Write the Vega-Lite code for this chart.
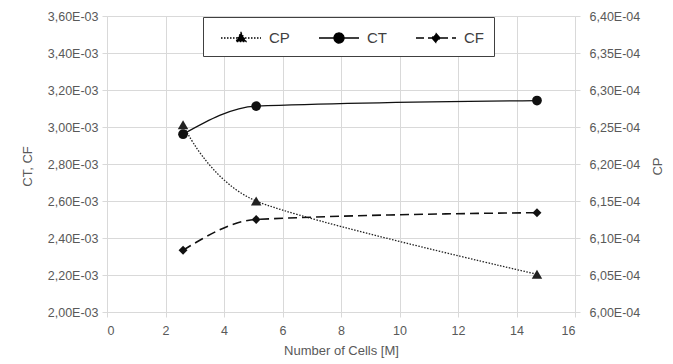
{
  "$schema": "https://vega.github.io/schema/vega-lite/v6.json",
  "width": 468,
  "height": 296,
  "autosize": {"type": "none"},
  "padding": {"left": 107, "top": 16, "right": 98, "bottom": 52},
  "background": "white",
  "config": {
    "view": {"stroke": null},
    "font": "Liberation Sans",
    "axis": {
      "labelFont": "Liberation Sans",
      "labelFontSize": 12.5,
      "labelColor": "#595959",
      "titleFont": "Liberation Sans",
      "titleFontSize": 13,
      "titleFontWeight": "normal",
      "titleColor": "#595959",
      "gridColor": "#d9d9d9",
      "domainColor": "#d9d9d9",
      "tickColor": "#d9d9d9",
      "tickSize": 5
    }
  },
  "data": {
    "values": [
      {"cells": 2.6, "series": "CP", "value": 0.0006253},
      {"cells": 5.1, "series": "CP", "value": 0.000615},
      {"cells": 14.7, "series": "CP", "value": 0.0006051},
      {"cells": 2.6, "series": "CT", "value": 0.002961},
      {"cells": 5.1, "series": "CT", "value": 0.003113},
      {"cells": 14.7, "series": "CT", "value": 0.003143},
      {"cells": 2.6, "series": "CF", "value": 0.002334},
      {"cells": 5.1, "series": "CF", "value": 0.0025},
      {"cells": 14.7, "series": "CF", "value": 0.002537}
    ]
  },
  "encoding": {
    "x": {
      "field": "cells",
      "type": "quantitative",
      "scale": {"domain": [0, 16], "nice": false},
      "axis": {
        "values": [0, 2, 4, 6, 8, 10, 12, 14, 16],
        "title": "Number of Cells [M]",
        "grid": true,
        "labelPadding": 7,
        "titlePadding": 8
      }
    }
  },
  "layer": [
    {
      "encoding": {
        "y": {
          "field": "value",
          "type": "quantitative",
          "scale": {"domain": [0.0006, 0.00064], "nice": false, "zero": false},
          "axis": {
            "orient": "right",
            "values": [0.0006, 0.000605, 0.00061, 0.000615, 0.00062, 0.000625, 0.00063, 0.000635, 0.00064],
            "labelExpr": "replace(format(datum.value*10000, '.2f'), '.', ',') + 'E-04'",
            "title": "CP",
            "titleAngle": -90,
            "titleX": 82,
            "titleY": 150,
            "titleAlign": "center",
            "titleBaseline": "middle",
            "grid": false,
            "labelPadding": 9
          }
        }
      },
      "layer": [
        {
          "transform": [{"filter": "datum.series === 'CP'"}],
          "mark": {"type": "line", "interpolate": "cardinal", "tension": 0.2, "color": "#222222", "strokeWidth": 1.3, "strokeDash": [1.5, 1.5]}
        },
        {
          "transform": [{"filter": "datum.series === 'CP'"}],
          "mark": {"type": "point", "shape": "triangle-up", "filled": true, "color": "#222222", "size": 110, "opacity": 1}
        }
      ]
    },
    {
      "encoding": {
        "y": {
          "field": "value",
          "type": "quantitative",
          "scale": {"domain": [0.002, 0.0036], "nice": false, "zero": false},
          "axis": {
            "orient": "left",
            "values": [0.002, 0.0022, 0.0024, 0.0026, 0.0028, 0.003, 0.0032, 0.0034, 0.0036],
            "labelExpr": "replace(format(datum.value*1000, '.2f'), '.', ',') + 'E-03'",
            "title": "CT, CF",
            "titleAngle": -90,
            "titleX": -80,
            "titleY": 150,
            "titleAlign": "center",
            "titleBaseline": "middle",
            "grid": true,
            "labelPadding": 4
          }
        }
      },
      "layer": [
        {
          "transform": [{"filter": "datum.series === 'CT'"}],
          "mark": {"type": "line", "interpolate": "monotone", "color": "#111111", "strokeWidth": 1.3}
        },
        {
          "transform": [{"filter": "datum.series === 'CF'"}],
          "mark": {"type": "line", "interpolate": "monotone", "color": "#111111", "strokeWidth": 1.6, "strokeDash": [9, 5]}
        },
        {
          "transform": [{"filter": "datum.series === 'CT'"}],
          "mark": {"type": "point", "shape": "circle", "filled": true, "color": "#111111", "size": 95, "opacity": 1}
        },
        {
          "transform": [{"filter": "datum.series === 'CF'"}],
          "mark": {"type": "point", "shape": "diamond", "filled": true, "color": "#111111", "size": 80, "opacity": 1}
        }
      ]
    },
    {
      "mark": {"type": "point", "filled": true, "opacity": 0, "color": "black"},
      "encoding": {
        "shape": {
          "field": "series",
          "type": "nominal",
          "scale": {
            "domain": ["CP", "CT", "CF"],
            "range": [
              "M-0.3,0H3.7M1.7,-0.55L2.2,0.35L1.2,0.35Z",
              "M-0.3,0H3.7M2.2,0C2.2,0.276,1.976,0.5,1.7,0.5C1.424,0.5,1.2,0.276,1.2,0C1.2,-0.276,1.424,-0.5,1.7,-0.5C1.976,-0.5,2.2,-0.276,2.2,0Z",
              "M-0.3,0H3.7M1.7,-0.45L2.1,0L1.7,0.45L1.3,0Z"
            ]
          },
          "legend": {
            "title": null,
            "orient": "none",
            "legendX": 96,
            "legendY": 1,
            "direction": "horizontal",
            "columns": 3,
            "columnPadding": 21,
            "padding": 10,
            "strokeColor": "#404040",
            "fillColor": "white",
            "symbolSize": 400,
            "symbolStrokeColor": "black",
            "symbolFillColor": "black",
            "symbolStrokeWidth": 1.3,
            "symbolOpacity": 1,
            "labelFont": "Liberation Sans",
            "labelFontSize": 15,
            "labelColor": "#404040",
            "labelOffset": 34,
            "encoding": {"symbols": {"stroke": {"value": "black"}, "fill": {"value": "black"}, "strokeWidth": {"value": 1.3}, "opacity": {"value": 1}}}
          }
        },
        "strokeDash": {
          "field": "series",
          "type": "nominal",
          "scale": {"domain": ["CP", "CT", "CF"], "range": [[1.5, 1.5], [1, 0], [8, 4]]},
          "legend": {
            "title": null,
            "orient": "none",
            "legendX": 96,
            "legendY": 1,
            "direction": "horizontal",
            "columns": 3,
            "columnPadding": 21,
            "padding": 10,
            "strokeColor": "#404040",
            "fillColor": "white",
            "symbolSize": 400,
            "symbolStrokeColor": "black",
            "symbolFillColor": "black",
            "symbolStrokeWidth": 1.3,
            "symbolOpacity": 1,
            "labelFont": "Liberation Sans",
            "labelFontSize": 15,
            "labelColor": "#404040",
            "labelOffset": 34,
            "encoding": {"symbols": {"stroke": {"value": "black"}, "fill": {"value": "black"}, "strokeWidth": {"value": 1.3}, "opacity": {"value": 1}}}
          }
        }
      }
    }
  ],
  "resolve": {"scale": {"y": "independent"}}
}
